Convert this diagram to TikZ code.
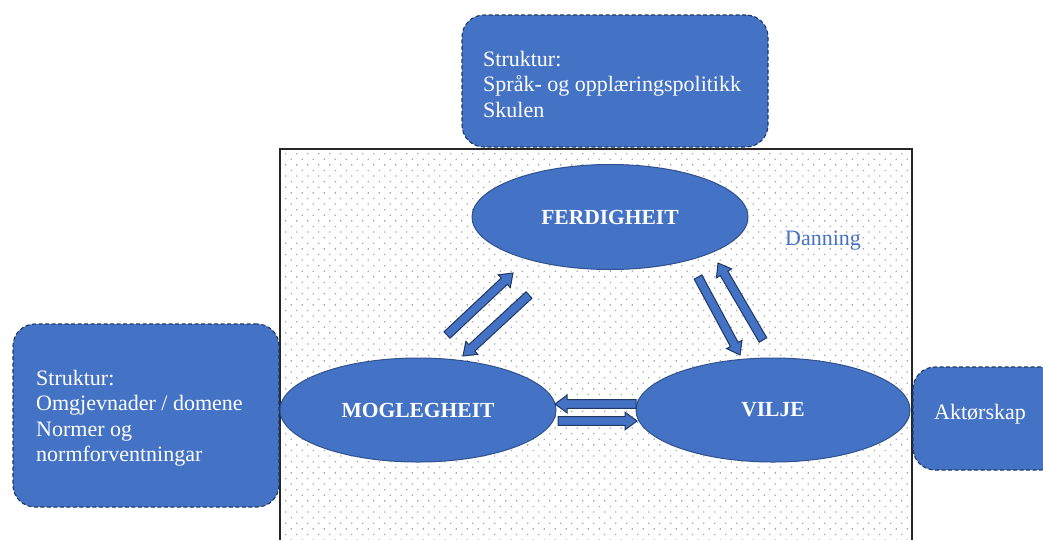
\documentclass[tikz,border=0pt]{standalone}
\usepackage{fontspec}
\setmainfont{Liberation Serif}
\usetikzlibrary{shapes.geometric,calc}

\definecolor{boxblue}{HTML}{4472C4}
\definecolor{edgeblue}{HTML}{2F528F}
\definecolor{dashblue}{HTML}{1F3864}
\definecolor{dotgray}{HTML}{A8A8A8}

\tikzset{
  txt/.style={font=\fontsize{22}{25.5}\selectfont, inner sep=0pt},
  structbox/.style={draw=dashblue, fill=boxblue, line width=1.1pt,
    dash pattern=on 4pt off 2.5pt, rounded corners=22pt, inner sep=0pt},
  boxtext/.style={txt, text=white, align=left, anchor=west},
  oval/.style={ellipse, draw=edgeblue, fill=boxblue, line width=1pt,
    inner sep=0pt, text=white, font=\fontsize{21.5}{25.5}\selectfont\bfseries},
  arrowbody/.style={fill=boxblue, draw=dashblue, line width=1pt, line join=miter},
  frame/.style={draw=black!85, line width=1.4pt},
}

% block arrow from #1 (tail) to #2 (tip)
\newcommand\blockarrow[2]{%
  \coordinate (ba-h) at ($(#2)!12pt!(#1)$);
  \path[arrowbody]
    ($(#1)!4.4pt!90:(#2)$) -- ($(ba-h)!4.4pt!-90:(#1)$) --
    ($(ba-h)!8.8pt!-90:(#1)$) -- (#2) --
    ($(ba-h)!8.8pt!90:(#1)$) -- ($(ba-h)!4.4pt!90:(#1)$) --
    ($(#1)!4.4pt!-90:(#2)$) -- cycle;}

\begin{document}
\begin{tikzpicture}[x=1pt, y=-1pt]
\useasboundingbox (0,0) rectangle (1043,539);
\clip (0,0) rectangle (1043,539);
\fill[white] (0,0) rectangle (1043,539);

% dotted field, one row at a time
\foreach \j in {0,...,70} {
  \pgfmathsetmacro\rowx{285+5.5*mod(\j,2)}
  \pgfmathsetmacro\rowy{153+5.6*\j}
  \fill[dotgray] \foreach \i in {0,...,56} {
    ({\rowx+11*\i}, \rowy) rectangle ++(1.3,1.3) };
}
\draw[frame] (280,149) rectangle (912,570);

% structure boxes
\node[structbox, minimum width=306, minimum height=132] (topbox) at (615,81) {};
\node[boxtext] (toptext) at (483,84) {Struktur:\\Språk- og opplæringspolitikk\\Skulen};

\node[structbox, minimum width=266, minimum height=183] (leftbox) at (146,415.5) {};
\node[boxtext] (lefttext) at (36,418) {Struktur:\\Omgjevnader / domene\\Normer og\\normforventningar};

\node[structbox, minimum width=150, minimum height=103] (rightbox) at (988,418.5) {};
\node[txt, text=white] (righttext) at (980,414) {Aktørskap};

% the three capacities
\node[oval, minimum width=276, minimum height=105] (ferd) at (610,217) {FERDIGHEIT};
\node[oval, minimum width=276, minimum height=104] (mogl) at (418,410) {MOGLEGHEIT};
\node[oval, minimum width=274, minimum height=104] (vilje) at (773,410) {VILJE};

\node[txt, text=boxblue] (danning) at (823,241) {Danning};

% arrow end points
\coordinate (a1s) at (447,335); \coordinate (a1e) at (513,273);
\coordinate (a2s) at (529,295); \coordinate (a2e) at (463,356);
\coordinate (a3s) at (698,277); \coordinate (a3e) at (740,355);
\coordinate (a4s) at (763,340); \coordinate (a4e) at (718,263);
\coordinate (a5s) at (636,404); \coordinate (a5e) at (555,404);
\coordinate (a6s) at (558,421); \coordinate (a6e) at (637,421);

\blockarrow{a1s}{a1e}
\blockarrow{a2s}{a2e}
\blockarrow{a3s}{a3e}
\blockarrow{a4s}{a4e}
\blockarrow{a5s}{a5e}
\blockarrow{a6s}{a6e}
\end{tikzpicture}
\end{document}
